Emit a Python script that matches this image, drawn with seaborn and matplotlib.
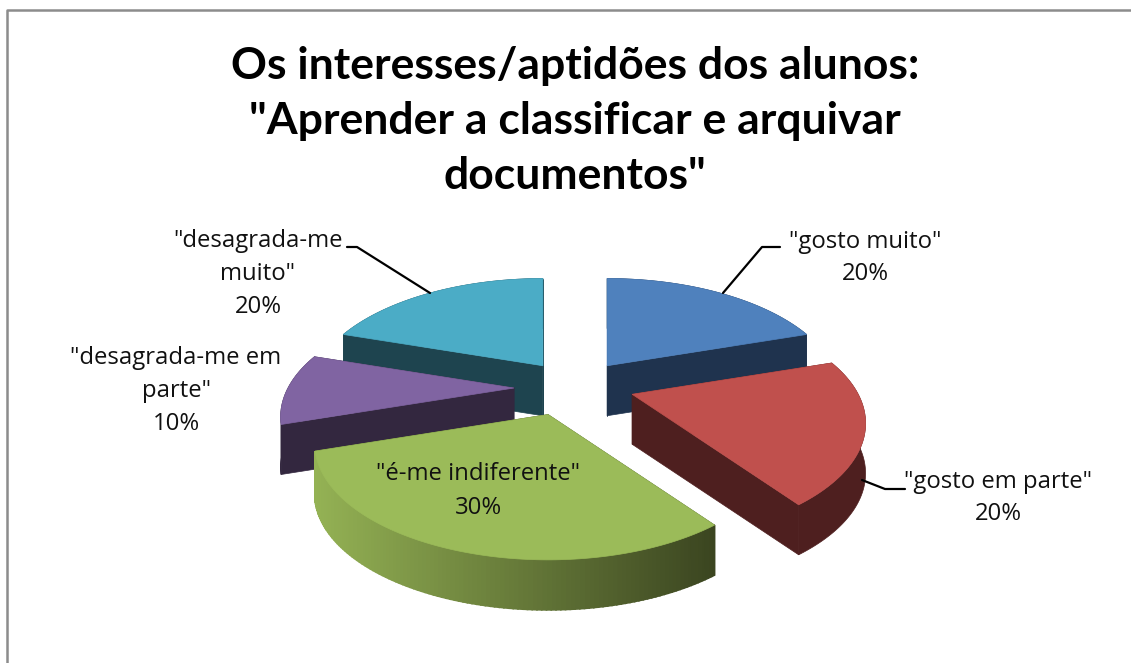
#!/usr/bin/env python3
import numpy as np
import matplotlib.pyplot as plt
import seaborn as sns
from matplotlib.colors import to_rgb

title = 'Os interesses/aptidões dos alunos:\n"Aprender a classificar e arquivar\ndocumentos"'
categories = ['"gosto muito"', '"gosto em parte"', '"é-me indiferente"', '"desagrada-me em\nparte"', '"desagrada-me\nmuito"']
values = [20, 20, 30, 10, 20]
top_colors = ["#4F81BD", "#C0504D", "#9BBB59", "#8064A2", "#4BACC6"]
side_colors = ["#1F334E", "#4E1F1F", "#3B4520", "#33273F", "#1E444F"]

# pie geometry, in pixels of the original picture
CX, CY = 575, 390
EX, EY = 58, 30
RX, RY, PERSP = 226, 109, 0.25
DEPTH = 50
NUDGE = {0: (-2, 0), 1: (2, -5), 2: (-9, -4), 3: (-3, -2), 4: (2, 0)}


def project(theta):
    u, v = np.sin(theta), np.cos(theta)
    w = 1 + PERSP * v
    return RX * u / w, -RY * v / w


def draw_slice(ax, i, start, end):
    mid = (start + end) / 2
    nx, ny = NUDGE.get(i, (0, 0))
    ax0 = CX + EX * np.sin(mid) + nx
    ay0 = CY - EY * np.cos(mid) + ny
    theta = np.linspace(start, end, 120)
    px, py = project(theta)
    px, py = px + ax0, py + ay0
    side = side_colors[i]

    # cut faces
    for k in (0, -1):
        ax.fill([ax0, px[k], px[k], ax0], [ay0, py[k], py[k] + DEPTH, ay0 + DEPTH],
                color=side, lw=0.5)

    # rim, green one shades from light to dark
    if i == 2:
        lo, hi = np.array(to_rgb("#94B254")), np.array(to_rgb(side))
        for k in range(len(theta) - 1):
            f = (px[k] - px.min()) / (px.max() - px.min())
            col = tuple(lo * (1 - f) + hi * f)
            ax.fill([px[k], px[k + 1], px[k + 1], px[k]],
                    [py[k], py[k + 1], py[k + 1] + DEPTH, py[k] + DEPTH],
                    color=col, lw=1.2)
    else:
        ax.fill(np.r_[px, px[::-1]], np.r_[py, py[::-1] + DEPTH], color=side, lw=0.5)

    ax.fill(np.r_[ax0, px], np.r_[ay0, py], color=top_colors[i], lw=0.5)


def main():
    sns.set_theme(style="white")
    plt.rcParams["font.family"] = ["Open Sans", "DejaVu Sans"]
    fig = plt.figure(figsize=(11.31, 6.63), dpi=100)
    ax = fig.add_axes([0, 0, 1, 1])
    ax.set_xlim(0, 1131)
    ax.set_ylim(663, 0)
    ax.axis("off")

    # chart frame
    ax.plot([7, 7, 1131], [663, 10, 10], color="#8C8C8C", lw=1.8)

    ax.text(575, 121, title, ha="center", va="center", fontsize=32, fontweight="bold",
            family=["Lato", "DejaVu Sans"], color="black", linespacing=1.46)

    # leader lines go below the slices
    ax.plot([347, 357, 430], [247, 247, 293], color="black", lw=1.6)
    ax.plot([780, 762, 723], [247, 247, 293], color="black", lw=1.6)
    ax.plot([905, 885, 862], [489, 489, 480], color="black", lw=1.6)

    edges = np.cumsum([0] + values) / sum(values) * 2 * np.pi
    for i in [4, 0, 3, 1, 2]:
        draw_slice(ax, i, edges[i], edges[i + 1])

    label_pos = [(865, 258), (998, 498), (478, 491), (176, 391), (258, 274)]
    for name, val, (x, y) in zip(categories, values, label_pos):
        ax.text(x, y, f"{name}\n{val}%", ha="center", va="center", fontsize=17.2,
                color="#111111", linespacing=1.5)

    fig.savefig("out.png", dpi=100)


if __name__ == "__main__":
    main()
